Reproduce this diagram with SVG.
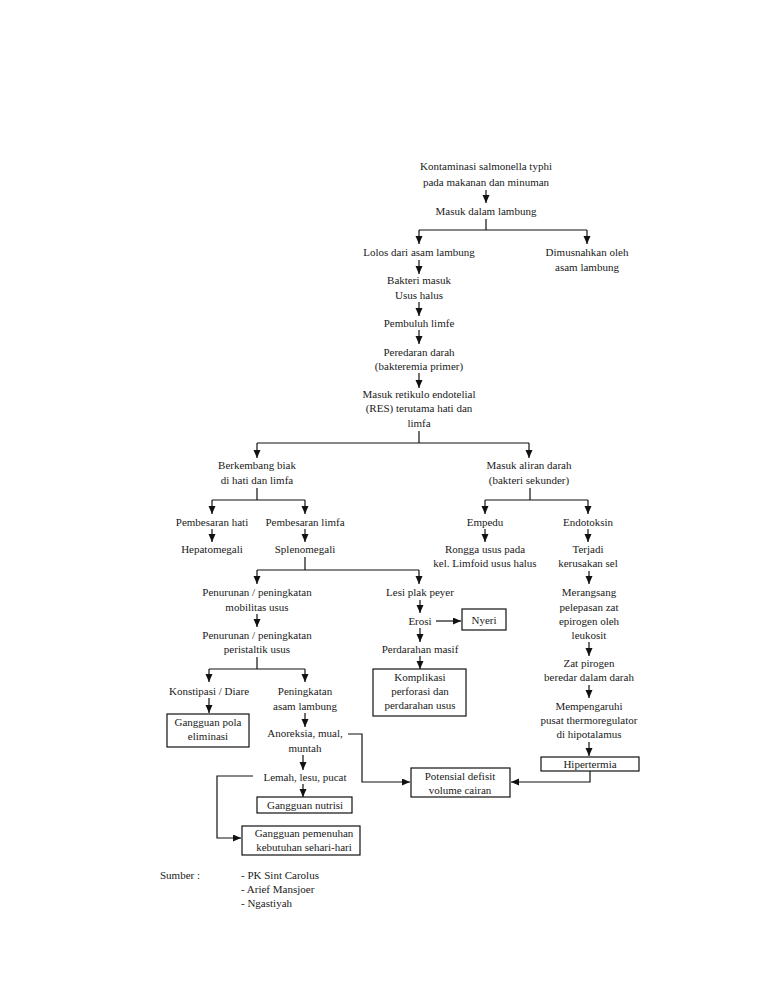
<svg xmlns="http://www.w3.org/2000/svg" width="768" height="994" viewBox="0 0 768 994">
<style>
text{font-family:"Liberation Serif","Times New Roman",serif;font-size:11px;fill:#1a1a1a;text-anchor:middle}
.l{text-anchor:start}
.c{fill:none;stroke:#111;stroke-width:1.2}
.a{fill:none;stroke:#111;stroke-width:1.2;marker-end:url(#ah)}
.b{fill:#fff;stroke:#111;stroke-width:1.2}
</style>
<defs>
<marker id="ah" markerUnits="userSpaceOnUse" markerWidth="8" markerHeight="8" refX="8" refY="3.5" orient="auto">
<path d="M0,0 L8,3.5 L0,7 z" fill="#111"/>
</marker>
</defs>
<rect width="768" height="994" fill="#fff"/>
<g id="connectors">
<path class="a" d="M486,190 V203"/>
<path class="c" d="M486,219 V230 M419,230 H587"/>
<path class="a" d="M419,230 V244"/>
<path class="a" d="M587,230 V244"/>
<path class="a" d="M419,260 V274"/>
<path class="a" d="M419,302 V316"/>
<path class="a" d="M419,330 V344"/>
<path class="a" d="M419,373 V388"/>
<path class="c" d="M419,431 V443 M257,443 H529"/>
<path class="a" d="M257,443 V458"/>
<path class="a" d="M529,443 V458"/>
<path class="c" d="M257,488 V500 M212,500 H305"/>
<path class="a" d="M212,500 V514"/>
<path class="a" d="M305,500 V514"/>
<path class="c" d="M530,488 V500 M485,500 H588"/>
<path class="a" d="M485,500 V514"/>
<path class="a" d="M588,500 V514"/>
<path class="a" d="M212,529 V542"/>
<path class="a" d="M305,529 V542"/>
<path class="a" d="M485,529 V542"/>
<path class="a" d="M588,529 V542"/>
<path class="c" d="M305,557 V570 M257,570 H419"/>
<path class="a" d="M257,570 V584"/>
<path class="a" d="M419,570 V584"/>
<path class="a" d="M589,571 V584"/>
<path class="a" d="M257,614 V627"/>
<path class="a" d="M420,600 V613"/>
<path class="a" d="M436,621 H461"/>
<path class="a" d="M420,628 V642"/>
<path class="a" d="M420,656 V669"/>
<path class="a" d="M589,642 V656"/>
<path class="a" d="M589,685 V698"/>
<path class="a" d="M589,742 V756"/>
<path class="c" d="M257,657 V669 M209,669 H305"/>
<path class="a" d="M209,669 V682"/>
<path class="a" d="M305,669 V682"/>
<path class="a" d="M209,698 V713"/>
<path class="a" d="M305,713 V727"/>
<path class="a" d="M348,734 H362 V782 H410"/>
<path class="a" d="M303,755 V770"/>
<path class="a" d="M253,776 H217 V838 H241"/>
<path class="a" d="M303,784 V797"/>
<path class="a" d="M590,771 V782 H511"/>
</g>
<g id="n1"><text x="486" y="170">Kontaminasi salmonella typhi</text><text x="486" y="186">pada makanan dan minuman</text></g>
<g id="n2"><text x="486" y="215">Masuk dalam lambung</text></g>
<g id="n3"><text x="419" y="256">Lolos dari asam lambung</text></g>
<g id="n4"><text x="587" y="256">Dimusnahkan oleh</text><text x="587" y="271">asam lambung</text></g>
<g id="n5"><text x="419" y="284">Bakteri masuk</text><text x="419" y="299">Usus halus</text></g>
<g id="n6"><text x="419" y="327">Pembuluh limfe</text></g>
<g id="n7"><text x="419" y="356">Peredaran darah</text><text x="419" y="370">(bakteremia primer)</text></g>
<g id="n8"><text x="419" y="398">Masuk retikulo endotelial</text><text x="419" y="412">(RES) terutama hati dan</text><text x="419" y="427">limfa</text></g>
<g id="n9"><text x="257" y="469">Berkembang biak</text><text x="257" y="484">di hati dan limfa</text></g>
<g id="n10"><text x="529" y="469">Masuk aliran darah</text><text x="529" y="484">(bakteri sekunder)</text></g>
<g id="n11"><text x="212" y="526">Pembesaran hati</text></g>
<g id="n12"><text x="305" y="526">Pembesaran limfa</text></g>
<g id="n13"><text x="485" y="526">Empedu</text></g>
<g id="n14"><text x="588" y="526">Endotoksin</text></g>
<g id="n15"><text x="212" y="553">Hepatomegali</text></g>
<g id="n16"><text x="305" y="553">Splenomegali</text></g>
<g id="n17"><text x="485" y="553">Rongga usus pada</text><text x="485" y="567">kel. Limfoid usus halus</text></g>
<g id="n18"><text x="588" y="553">Terjadi</text><text x="588" y="567">kerusakan sel</text></g>
<g id="n19"><text x="257" y="596">Penurunan / peningkatan</text><text x="257" y="611">mobilitas usus</text></g>
<g id="n20"><text x="420" y="596">Lesi plak peyer</text></g>
<g id="n21"><text x="589" y="596">Merangsang</text><text x="589" y="611">pelepasan zat</text><text x="589" y="625">epirogen oleh</text><text x="589" y="639">leukosit</text></g>
<g id="n22"><text x="257" y="639">Penurunan / peningkatan</text><text x="257" y="653">peristaltik usus</text></g>
<g id="n23"><text x="420" y="625">Erosi</text></g>
<g id="n24"><rect class="b" x="462" y="609" width="44" height="21"/><text x="484" y="624">Nyeri</text></g>
<g id="n25"><text x="420" y="653">Perdarahan masif</text></g>
<g id="n26"><rect class="b" x="373" y="669" width="93" height="47"/><text x="420" y="681">Komplikasi</text><text x="420" y="695">perforasi dan</text><text x="420" y="709">perdarahan usus</text></g>
<g id="n27"><text x="589" y="667">Zat pirogen</text><text x="589" y="681">beredar dalam darah</text></g>
<g id="n28"><text x="589" y="710">Mempengaruhi</text><text x="589" y="724">pusat thermoregulator</text><text x="589" y="738">di hipotalamus</text></g>
<g id="n29"><rect class="b" x="541" y="757" width="98" height="14"/><text x="590" y="768">Hipertermia</text></g>
<g id="n30"><text x="209" y="695">Konstipasi / Diare</text></g>
<g id="n31"><text x="305" y="695">Peningkatan</text><text x="305" y="710">asam lambung</text></g>
<g id="n32"><rect class="b" x="167" y="714" width="82" height="33"/><text x="208" y="726">Gangguan pola</text><text x="208" y="740">eliminasi</text></g>
<g id="n33"><text x="305" y="737">Anoreksia, mual,</text><text x="305" y="752">muntah</text></g>
<g id="n34"><text x="305" y="781">Lemah, lesu, pucat</text></g>
<g id="n35"><rect class="b" x="257" y="797" width="95" height="16"/><text x="305" y="809">Gangguan nutrisi</text></g>
<g id="n36"><rect class="b" x="242" y="826" width="118" height="29"/><text x="304" y="837">Gangguan pemenuhan</text><text x="304" y="851">kebutuhan sehari-hari</text></g>
<g id="n37"><rect class="b" x="411" y="768" width="99" height="29"/><text x="460" y="780">Potensial defisit</text><text x="460" y="794">volume cairan</text></g>
<g id="sumber"><text class="l" x="160" y="879">Sumber :</text><text class="l" x="241" y="879">- PK Sint Carolus</text><text class="l" x="241" y="893">- Arief Mansjoer</text><text class="l" x="241" y="907">- Ngastiyah</text></g>
</svg>
